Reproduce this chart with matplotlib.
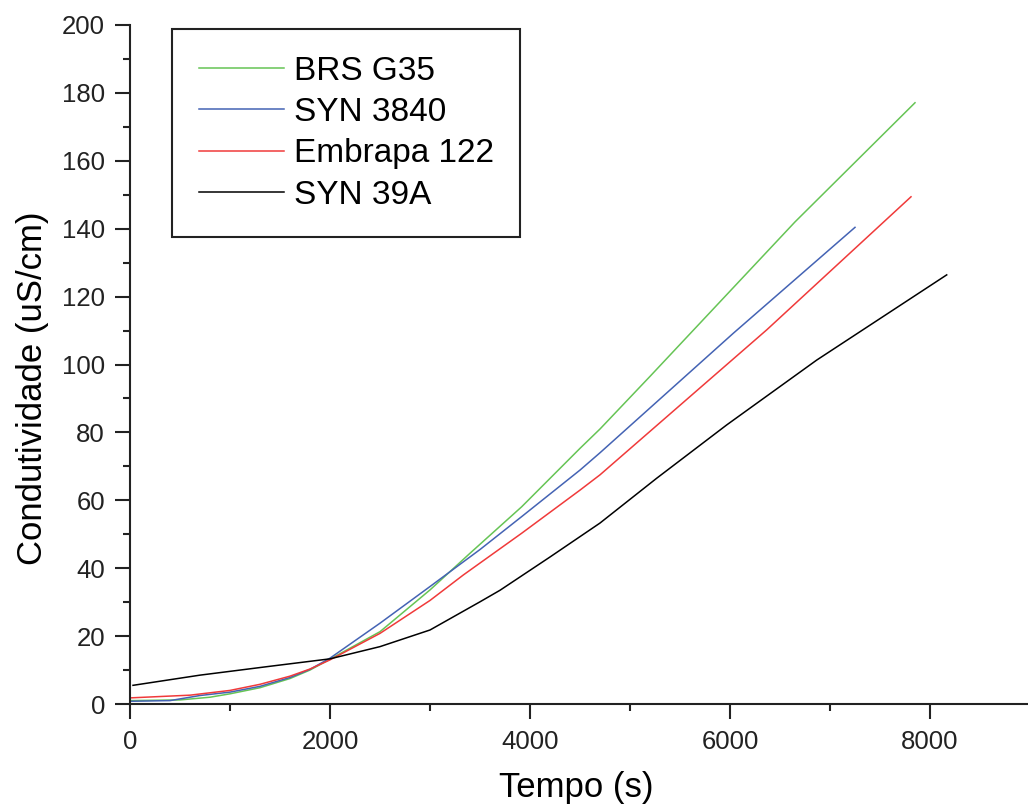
import numpy as np
import matplotlib
matplotlib.use("Agg")
import matplotlib.pyplot as plt
from matplotlib.ticker import MultipleLocator

plt.rcParams['font.family'] = ['Liberation Sans', 'DejaVu Sans']

# valores (tempo em s, condutividade em uS/cm)
t_brs = [0, 500, 800, 1000, 1300, 1600, 1800, 2000, 2500, 3000, 3400, 3917, 4500, 4700, 5200, 6650, 7850]
c_brs = [1.0, 1.2, 2.0, 3.0, 4.8, 7.5, 10.0, 13.2, 21.3, 33.6, 44.4, 58.1, 75.3, 81.0, 96.5, 142.0, 177.1]

t_syn3840 = [0, 400, 700, 1000, 1300, 1600, 1800, 2000, 2500, 3000, 3500, 3917, 4500, 4700, 6033, 7250]
c_syn3840 = [0.8, 1.0, 2.5, 3.5, 5.2, 7.8, 10.2, 13.5, 23.8, 34.6, 45.5, 55.2, 68.9, 74.0, 109.2, 140.4]

t_emb = [0, 600, 1000, 1300, 1600, 1800, 2000, 2500, 3000, 3333, 3917, 4500, 4700, 6367, 7810]
c_emb = [1.8, 2.6, 4.0, 5.8, 8.2, 10.3, 13.0, 20.8, 30.5, 38.0, 50.3, 63.0, 67.5, 110.2, 149.4]

t_syn39a = [30, 700, 1370, 2000, 2500, 3000, 3500, 3700, 4200, 4500, 4700, 5267, 5967, 6867, 8167]
c_syn39a = [5.5, 8.5, 11.0, 13.3, 16.9, 21.8, 30.1, 33.5, 43.3, 49.3, 53.3, 66.5, 82.2, 101.3, 126.4]

series = [
    ("BRS G35", t_brs, c_brs, "#66c455"),
    ("SYN 3840", t_syn3840, c_syn3840, "#4463b4"),
    ("Embrapa 122", t_emb, c_emb, "#f03a3a"),
    ("SYN 39A", t_syn39a, c_syn39a, "#000000"),
]

fig = plt.figure(figsize=(10.28, 8.07), dpi=100)
ax = fig.add_axes([130 / 1028, 103 / 807, 900 / 1028, 679 / 807])

for nome, t, c, cor in series:
    ax.plot(t, c, color=cor, lw=1.1, label=nome)

ax.set_xlim(0, 9000)
ax.set_ylim(0, 200)
ax.xaxis.set_major_locator(MultipleLocator(2000))
ax.xaxis.set_minor_locator(MultipleLocator(1000))
ax.yaxis.set_major_locator(MultipleLocator(20))
ax.yaxis.set_minor_locator(MultipleLocator(10))

for lado in ["top", "right"]:
    ax.spines[lado].set_visible(False)
for lado in ["left", "bottom"]:
    ax.spines[lado].set_linewidth(1.5)
    ax.spines[lado].set_color("#222222")

ax.tick_params(which="major", direction="out", length=11, width=1.5, labelsize=18.5, pad=7, colors="#222222")
ax.tick_params(which="minor", direction="out", length=5, width=1.5, colors="#222222")
ax.tick_params(axis="x", which="major", pad=8)

ax.set_xlabel("Tempo (s)", fontsize=25, labelpad=12)
ax.xaxis.label.set_x(0.496)
ax.set_ylabel("Condutividade (uS/cm)", fontsize=25, labelpad=9)
ax.yaxis.label.set_y(0.465)

leg = ax.legend(loc="upper left", bbox_to_anchor=(0.0467, 0.994), borderaxespad=0,
                fontsize=24, fancybox=False, framealpha=1, edgecolor="#222222",
                handlelength=2.55, handletextpad=0.3, labelspacing=0.31, borderpad=0.8)
leg.get_frame().set_linewidth(1.5)

plt.savefig("out.png", dpi=100)
plt.close()
